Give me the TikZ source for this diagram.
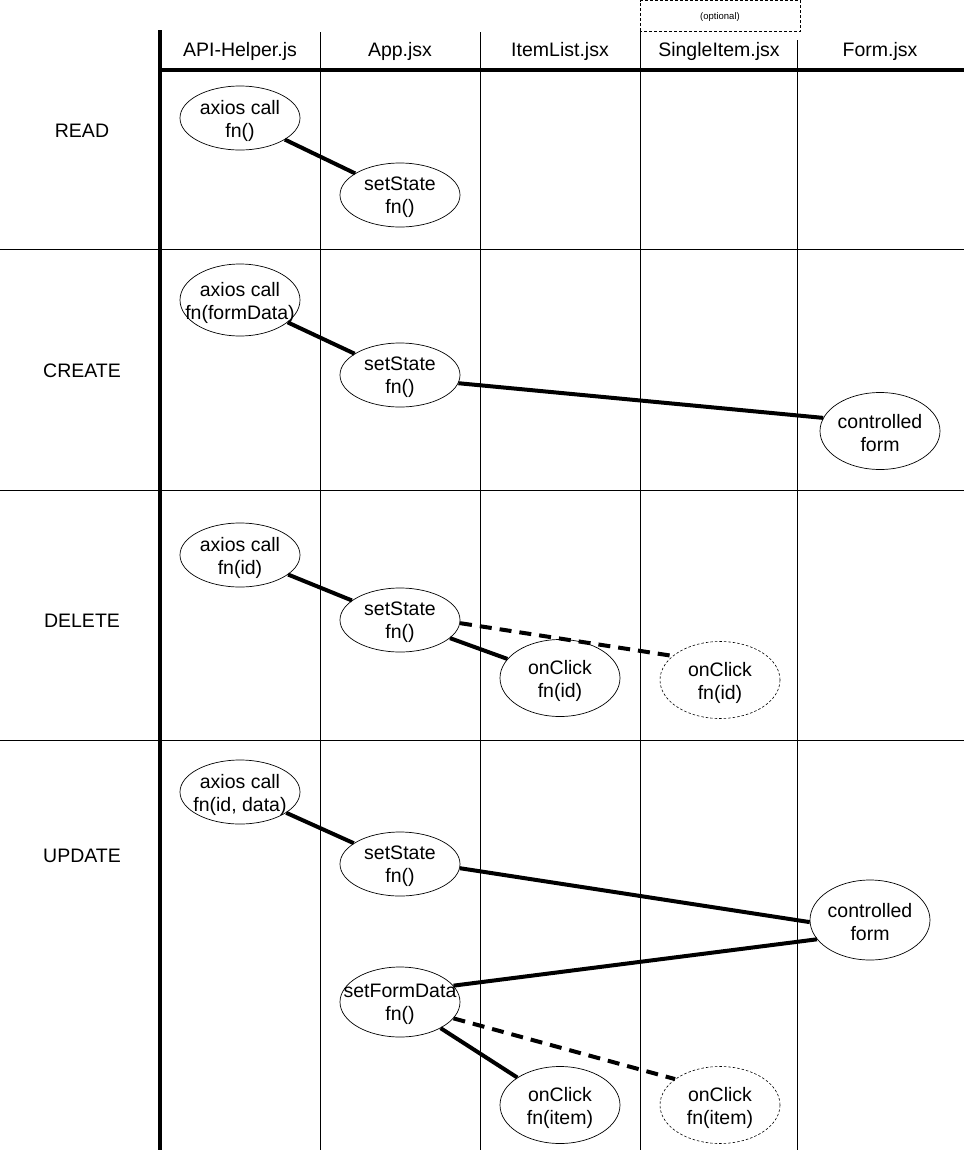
\documentclass[tikz,border=0pt]{standalone}
\usepackage{fontspec}
\setmainfont{Liberation Sans}
\usetikzlibrary{shapes.geometric}
\begin{document}
\begin{tikzpicture}[x=1pt,y=-1pt,
  oval/.style={ellipse, draw, fill=white, line width=0.7pt, inner sep=0pt, minimum width=120pt, minimum height=64pt},
  ovaltall/.style={oval, minimum height=77pt},
  ghost/.style={dash pattern=on 2.5pt off 2pt, line width=0.6pt},
  txt/.style={align=center, inner sep=0pt, font=\fontsize{19.5}{23}\selectfont},
  intxt/.style={txt, yshift=-2.5pt},
  small/.style={align=center, inner sep=0pt, font=\fontsize{9.5}{11}\selectfont},
  link/.style={line width=4pt},
  optlink/.style={line width=4pt, dash pattern=on 12pt off 8pt},
  thinline/.style={line width=0.9pt},
  heavy/.style={line width=4pt}]
\useasboundingbox (0,0) rectangle (964,1154);

% grid
\draw[thinline] (320,32) -- (320,1150);
\draw[thinline] (480,32) -- (480,1150);
\draw[thinline] (640,31) -- (640,1150);
\draw[thinline] (797,40) -- (797,1150);
\draw[thinline] (0,249) -- (964,249);
\draw[thinline] (0,490) -- (964,490);
\draw[thinline] (0,740) -- (964,740);
\draw[heavy] (160,30) -- (160,1150);
\draw[heavy] (160,70) -- (964,70);
\draw[thinline, dash pattern=on 3pt off 2pt] (640.5,31) -- (640.5,0.5) -- (800.5,0.5) -- (800.5,31) -- cycle;
\node[small] (opt) at (720,17) {(optional)};

% headers
\node[txt] (h1) at (240,51) {API-Helper.js};
\node[txt] (h2) at (400,51) {App.jsx};
\node[txt] (h3) at (560,51) {ItemList.jsx};
\node[txt] (h4) at (719,51) {SingleItem.jsx};
\node[txt] (h5) at (880,51) {Form.jsx};

% row labels
\node[txt] (r1) at (82,131) {READ};
\node[txt] (r2) at (82,371) {CREATE};
\node[txt] (r3) at (82,621) {DELETE};
\node[txt] (r4) at (82,856) {UPDATE};

% READ
\node[oval] (ra) at (240,118) {};
\node[intxt] (rat) at (ra) {axios call\\fn()};
\node[oval] (rs) at (400,195) {};
\node[intxt] (rst) at (rs) {setState\\fn()};
\draw[link] (ra) -- (rs);

% CREATE
\node[oval, minimum height=72pt] (ca) at (240,300) {};
\node[intxt] (cat) at (ca) {axios call\\fn(formData)};
\node[oval] (cs) at (400,375) {};
\node[intxt] (cst) at (cs) {setState\\fn()};
\node[ovaltall] (cf) at (880,431) {};
\node[intxt] (cft) at (cf) {controlled\\form};
\draw[link] (ca) -- (cs);
\draw[link] (cs.-8) -- (cf.167);

% DELETE
\node[oval] (da) at (240,555) {};
\node[intxt] (dat) at (da) {axios call\\fn(id)};
\node[oval] (ds) at (400,620) {};
\node[intxt] (dst) at (ds) {setState\\fn()};
\node[ovaltall] (dc) at (560,678) {};
\node[intxt] (dct) at (dc) {onClick\\fn(id)};
\node[ovaltall, ghost] (dg) at (720,680) {};
\node[intxt] (dgt) at (dg) {onClick\\fn(id)};
\draw[link] (da) -- (ds);
\draw[link] (ds) -- (dc);
\draw[optlink] (ds.-3) -- (dg.153);

% UPDATE
\node[oval] (ua) at (240,792) {};
\node[intxt] (uat) at (ua) {axios call\\fn(id, data)};
\node[oval] (us) at (400,864) {};
\node[intxt] (ust) at (us) {setState\\fn()};
\node[ovaltall, minimum height=80pt] (uf) at (870,920) {};
\node[intxt] (uft) at (uf) {controlled\\form};
\node[oval, minimum height=70pt] (ud) at (400,1002) {};
\node[intxt] (udt) at (ud) {setFormData\\fn()};
\node[ovaltall] (uc) at (560,1105) {};
\node[intxt] (uct) at (uc) {onClick\\fn(item)};
\node[ovaltall, ghost] (ug) at (720,1105) {};
\node[intxt] (ugt) at (ug) {onClick\\fn(item)};
\draw[link] (ua) -- (us);
\draw[link] (us.-4) -- (uf.182);
\draw[link] (ud.17) -- (uf.200);
\draw[link] (ud) -- (uc);
\draw[optlink] (ud.-17) -- (ug.150);
\end{tikzpicture}
\end{document}
